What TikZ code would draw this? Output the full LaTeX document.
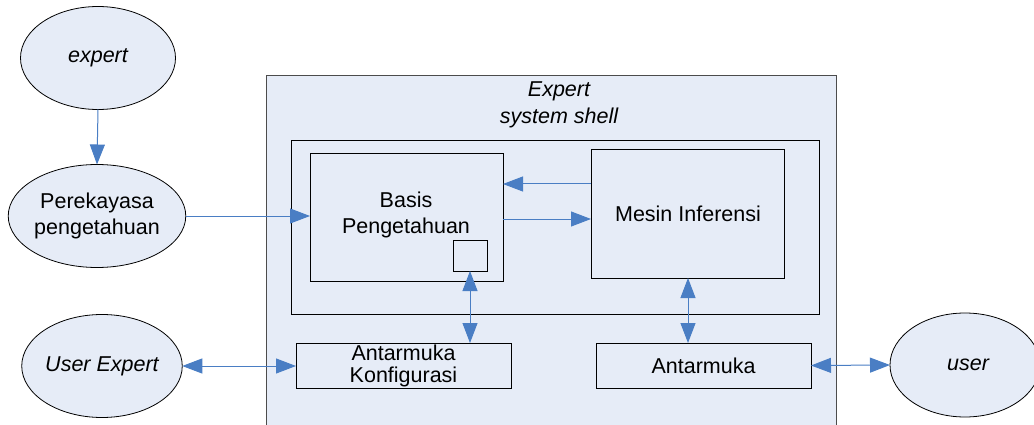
\documentclass[tikz,border=0pt]{standalone}
\usepackage{fontspec}
\setmainfont{Liberation Sans}
\usetikzlibrary{arrows.meta,shapes.geometric}
\definecolor{fillblue}{HTML}{E6ECF7}
\definecolor{arrowblue}{HTML}{4A7EC4}
\begin{document}
\begin{tikzpicture}[x=1pt,y=-1pt,
  every node/.style={font=\fontsize{21.5}{26}\selectfont, inner sep=0pt, outer sep=0pt},
  oval/.style={ellipse, draw=black, line width=0.8pt, fill=fillblue, align=center},
  boxnode/.style={draw=black, line width=0.8pt, fill=fillblue, align=center},
  conn/.style={draw=arrowblue, line width=1pt, -{Triangle[length=20pt,width=15pt]}},
  dconn/.style={draw=arrowblue, line width=1pt, {Triangle[length=20pt,width=15pt]}-{Triangle[length=20pt,width=15pt]}}
]
\useasboundingbox (0,0) rectangle (1034,425);
\clip (0,0) rectangle (1034,425);
% outer shell
\node[draw=black!70, line width=1pt, fill=fillblue, minimum width=570pt, minimum height=360pt, anchor=north west] (shell) at (266,76) {};
\node[align=center, font=\fontsize{21.5}{27}\selectfont\itshape] (title) at (559,105) {Expert\\system shell};
\node[draw=black, line width=0.8pt, fill=fillblue, minimum width=528pt, minimum height=174pt, anchor=north west] (inner) at (291,140) {};
% boxes
\node[boxnode, minimum width=193pt, minimum height=128pt, anchor=north west] (basis) at (310,153) {};
\node[align=center] (basistext) at (406,215) {Basis\\Pengetahuan};
\node[boxnode, minimum width=34pt, minimum height=31pt, anchor=north west] (small) at (453,240) {};
\node[boxnode, minimum width=193pt, minimum height=129pt, anchor=north west] (mesin) at (591,149) {};
\node (mesintext) at (688,214) {Mesin Inferensi};
\node[boxnode, minimum width=215pt, minimum height=45pt, anchor=north west, font=\fontsize{21.5}{22}\selectfont] (konfig) at (296,343) {Antarmuka\\Konfigurasi};
\node[boxnode, minimum width=215pt, minimum height=45pt, anchor=north west] (antar) at (596,343) {Antarmuka};
% ellipses
\node[oval, minimum width=155pt, minimum height=103pt, font=\fontsize{21.5}{26}\selectfont\itshape] (expert) at (98,58) {expert};
\node[oval, minimum width=174pt, minimum height=103pt] (pere) at (97,216) {Perekayasa\\pengetahuan};
\node[oval, minimum width=156pt, minimum height=103pt, font=\fontsize{21.5}{26}\selectfont\itshape] (uexp) at (102,366) {User Expert};
\node[oval, minimum width=150pt, minimum height=104pt, anchor=west] (user) at (890,365) {};
\node[font=\fontsize{21.5}{26}\selectfont\itshape] (usertext) at (968,365) {user};
% connectors
\draw[conn] (expert.south) -- (pere.north);
\draw[conn] (pere.east) -- (pere.east -| basis.west);
\draw[conn] (mesin.west |- 0,184) -- (basis.east |- 0,184);
\draw[conn] (basis.east |- 0,219) -- (mesin.west |- 0,219);
\draw[dconn] (small.south) -- (small.south |- konfig.north);
\draw[dconn] (mesin.south -| 688,0) -- (antar.north -| 688,0);
\draw[dconn] (uexp.east) -- (uexp.east -| konfig.west);
\draw[dconn] (antar.east) -- (user.west);
\end{tikzpicture}
\end{document}
